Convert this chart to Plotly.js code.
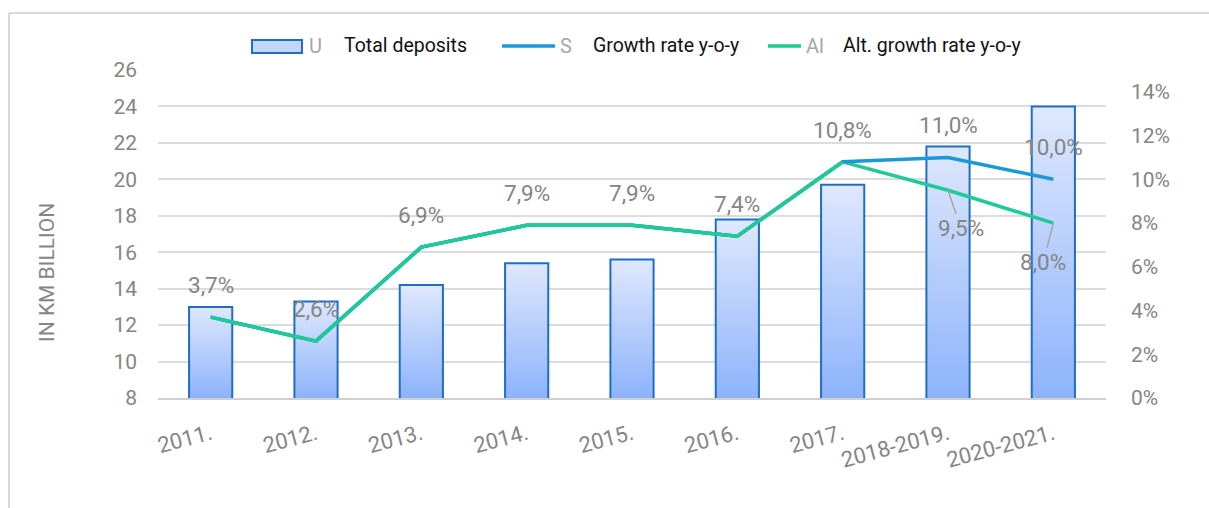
<!DOCTYPE html>
<html>
<head>
<meta charset="utf-8">
<script src="https://cdn.plot.ly/plotly-3.0.1.min.js"></script>
<style>
  body { margin: 0; background: #fff; }
  #chart { width: 1209px; height: 508px; }
</style>
</head>
<body>
<div id="chart"></div>
<script>
// chart data
const years = ["2011.", "2012.", "2013.", "2014.", "2015.", "2016.", "2017.", "2018-2019.", "2020-2021."];
const deposits = [13.0, 13.3, 14.2, 15.4, 15.6, 17.8, 19.7, 21.8, 24.0];
const growth = [3.7, 2.6, 6.9, 7.9, 7.9, 7.4, 10.8, 11.0, 10.0];
const altGrowth = [3.7, 2.6, 6.9, 7.9, 7.9, 7.4, 10.8, 9.5, 8.0];

const W = 1209, H = 508;
const M = { l: 158, r: 103, t: 70, b: 110 };
// pixel -> paper helpers (for frame / legend only)
function px(x) { return (x - M.l) / (W - M.l - M.r); }
function py(y) { return (H - M.b - y) / (H - M.t - M.b); }

const gray = "#858585";
const blue = "#1c98d8";
const green = "#1fca96";

// category positions (labels like "2011." confuse the category axis, so use indices)
const xs = years.map((_, i) => i);

function pct(v) {
  return v.toFixed(1).replace(".", ",") + "%";
}

const traces = [
  {
    x: xs,
    y: deposits,
    type: "bar",
    width: 0.41,
    marker: { color: "#bcd2fb", line: { color: "#1f6ec6", width: 2 } },
    hoverinfo: "skip",
  },
  {
    x: xs,
    y: altGrowth,
    yaxis: "y2",
    mode: "lines",
    line: { color: green, width: 3.5 },
    hoverinfo: "skip",
  },
  {
    x: xs,
    y: growth,
    yaxis: "y2",
    mode: "lines",
    line: { color: blue, width: 3.5 },
    hoverinfo: "skip",
  },
  // green on top where the two series share values
  {
    x: xs.slice(0, 7),
    y: altGrowth.slice(0, 7),
    yaxis: "y2",
    mode: "lines",
    line: { color: green, width: 3.5 },
    hoverinfo: "skip",
  },
];

const labelFont = { family: "Roboto", size: 22.5, color: gray };

// data labels
const annotations = [];
growth.forEach((v, i) => {
  annotations.push({
    x: xs[i], y: v, yref: "y2",
    text: pct(v), showarrow: false, yshift: 32,
    font: labelFont,
  });
});
// alt labels only where they differ, with leader lines
const altOffsets = { 7: [13, 38], 8: [-10, 39] };
altGrowth.forEach((v, i) => {
  if (v === growth[i]) return;
  annotations.push({
    x: xs[i], y: v, yref: "y2",
    text: pct(v), showarrow: true, arrowhead: 0, arrowwidth: 1.5,
    arrowcolor: "#a6a6a6", standoff: 0,
    ax: altOffsets[i][0], ay: altOffsets[i][1],
    font: labelFont,
  });
});

// y axis title
annotations.push({
  xref: "paper", yref: "paper", x: px(33), y: py(273),
  text: "IN KM BILLION", textangle: -90, showarrow: false,
  font: { family: "Roboto", size: 21, color: gray },
});

// legend (drawn by hand, matches the odd original)
const legendY = py(46);
const legendItems = [
  { stub: "U", sx: 307, label: "Total deposits", lx: 342 },
  { stub: "S", sx: 558, label: "Growth rate y-o-y", lx: 591 },
  { stub: "Al", sx: 804, label: "Alt. growth rate y-o-y", lx: 841 },
];
legendItems.forEach((it) => {
  annotations.push({
    xref: "paper", yref: "paper", x: px(it.sx), y: legendY,
    xanchor: "left", yanchor: "middle", showarrow: false, text: it.stub,
    font: { family: "Roboto", size: 20, color: "#a6a6a6" },
  });
  annotations.push({
    xref: "paper", yref: "paper", x: px(it.lx), y: legendY,
    xanchor: "left", yanchor: "middle", showarrow: false, text: it.label,
    font: { family: "Roboto", size: 19.5, color: "#111" },
  });
});

const shapes = [
  // outer frame (left + top)
  { type: "line", xref: "paper", yref: "paper", x0: px(9), x1: px(9), y0: py(13), y1: py(H + 5),
    line: { color: "#d9d9d9", width: 2 } },
  { type: "line", xref: "paper", yref: "paper", x0: px(9), x1: px(W + 5), y0: py(13), y1: py(13),
    line: { color: "#d9d9d9", width: 2 } },
  // legend swatches
  { type: "rect", xref: "paper", yref: "paper", x0: px(252), x1: px(302), y0: py(40), y1: py(53),
    fillcolor: "#c4d7fb", line: { color: "#1f6ec6", width: 2 } },
  { type: "line", xref: "paper", yref: "paper", x0: px(502), x1: px(555), y0: py(46), y1: py(46),
    line: { color: blue, width: 3.5 } },
  { type: "line", xref: "paper", yref: "paper", x0: px(768), x1: px(801), y0: py(46), y1: py(46),
    line: { color: green, width: 3.5 } },
  // white box behind "Total deposits" hides a bit of the top gridline
  { type: "rect", xref: "paper", yref: "paper", x0: px(322), x1: px(494), y0: py(73), y1: py(62),
    fillcolor: "#fff", line: { width: 0 }, layer: "above" },
];

const tickFont = { family: "Roboto", size: 21, color: gray };

const layout = {
  width: W,
  height: H,
  margin: M,
  paper_bgcolor: "#fff",
  plot_bgcolor: "#fff",
  showlegend: false,
  xaxis: {
    range: [-0.5, years.length - 0.5],
    tickvals: xs,
    ticktext: years,
    tickangle: -15,
    tickfont: { family: "Roboto", size: 22, color: gray },
    showgrid: false,
    zeroline: false,
    showline: true,
    linecolor: "#d0d0d0",
    linewidth: 2,
    ticks: "",
    ticklabelstandoff: 13,
  },
  yaxis: {
    range: [8, 26],
    dtick: 2,
    tickfont: tickFont,
    gridcolor: "#dcdcdc",
    gridwidth: 2,
    zeroline: false,
    ticks: "",
    ticklabelstandoff: 20,
  },
  yaxis2: {
    overlaying: "y",
    side: "right",
    range: [0, 15],
    dtick: 2,
    ticksuffix: "%",
    tickfont: tickFont,
    showgrid: false,
    zeroline: false,
    ticks: "",
    ticklabelstandoff: 24,
  },
  annotations: annotations,
  shapes: shapes,
};

Plotly.newPlot("chart", traces, layout, { displayModeBar: false }).then(function (gd) {
  // vertical gradient on each bar, from its top down to the axis floor
  const svg = gd.querySelector(".main-svg");
  const ns = "http://www.w3.org/2000/svg";
  let defs = svg.querySelector("defs");
  if (!defs) { defs = document.createElementNS(ns, "defs"); svg.insertBefore(defs, svg.firstChild); }
  const plotH = gd._fullLayout._size.h;
  gd.querySelectorAll(".barlayer .point path").forEach(function (p, i) {
    const top = p.getBBox().y;
    const grad = document.createElementNS(ns, "linearGradient");
    grad.setAttribute("id", "barGrad" + i);
    grad.setAttribute("gradientUnits", "userSpaceOnUse");
    grad.setAttribute("x1", "0"); grad.setAttribute("y1", top);
    grad.setAttribute("x2", "0"); grad.setAttribute("y2", plotH);
    [["0", "#dfe8fd"], ["1", "#8db3fb"]].forEach(function (s) {
      const stop = document.createElementNS(ns, "stop");
      stop.setAttribute("offset", s[0]);
      stop.setAttribute("stop-color", s[1]);
      grad.appendChild(stop);
    });
    defs.appendChild(grad);
    p.style.fill = "url(#barGrad" + i + ")";
  });
});
</script>
</body>
</html>
